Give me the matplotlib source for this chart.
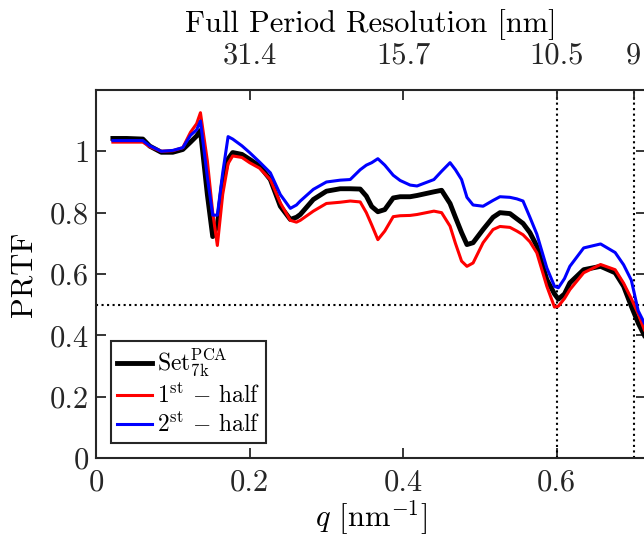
import matplotlib
matplotlib.use("Agg")
import matplotlib.pyplot as plt

plt.rcParams['font.family'] = 'serif'
plt.rcParams['font.serif'] = ['cmr10']
plt.rcParams['mathtext.fontset'] = 'cm'
plt.rcParams['axes.unicode_minus'] = False
plt.rcParams['axes.formatter.use_mathtext'] = True

# ---- data ----
q = [0.022, 0.04, 0.061, 0.07, 0.085, 0.1, 0.113, 0.123, 0.131, 0.136,
     0.145, 0.152, 0.158, 0.165, 0.172, 0.178, 0.19, 0.2, 0.213, 0.227,
     0.24, 0.253, 0.261, 0.266, 0.283, 0.3, 0.318, 0.331, 0.344, 0.352,
     0.359, 0.367, 0.376, 0.387, 0.396, 0.409, 0.418, 0.44, 0.45, 0.461,
     0.468, 0.476, 0.483, 0.491, 0.504, 0.517, 0.526, 0.539, 0.548, 0.556,
     0.565, 0.574, 0.587, 0.597, 0.602, 0.61, 0.617, 0.635, 0.657, 0.676,
     0.687, 0.697, 0.706, 0.714]

prtf_set = [1.042, 1.042, 1.040, 1.017, 0.997, 0.997, 1.006, 1.030, 1.050, 1.068,
            0.859, 0.722, 0.760, 0.900, 0.975, 0.996, 0.990, 0.974, 0.952, 0.908,
            0.821, 0.778, 0.785, 0.794, 0.843, 0.870, 0.878, 0.878, 0.877, 0.854,
            0.820, 0.803, 0.810, 0.848, 0.852, 0.852, 0.856, 0.868, 0.873, 0.830,
            0.785, 0.735, 0.696, 0.702, 0.745, 0.785, 0.800, 0.797, 0.780, 0.765,
            0.735, 0.691, 0.582, 0.535, 0.518, 0.535, 0.571, 0.614, 0.625, 0.604,
            0.560, 0.495, 0.440, 0.400]

prtf_half1 = [1.030, 1.030, 1.030, 1.015, 1.000, 1.002, 1.012, 1.062, 1.090, 1.126,
              0.969, 0.800, 0.693, 0.860, 0.960, 0.985, 0.980, 0.963, 0.945, 0.908,
              0.832, 0.775, 0.769, 0.775, 0.805, 0.830, 0.834, 0.838, 0.835, 0.800,
              0.760, 0.712, 0.740, 0.787, 0.790, 0.791, 0.794, 0.805, 0.800, 0.756,
              0.700, 0.642, 0.625, 0.636, 0.702, 0.745, 0.755, 0.752, 0.740, 0.728,
              0.705, 0.669, 0.560, 0.492, 0.495, 0.520, 0.549, 0.604, 0.631, 0.614,
              0.570, 0.520, 0.470, 0.418]

prtf_half2 = [1.035, 1.035, 1.035, 1.018, 1.000, 1.003, 1.012, 1.052, 1.070, 1.099,
              0.915, 0.792, 0.792, 0.930, 1.048, 1.040, 1.018, 0.996, 0.965, 0.930,
              0.859, 0.814, 0.825, 0.838, 0.876, 0.900, 0.906, 0.908, 0.940, 0.955,
              0.963, 0.976, 0.955, 0.922, 0.905, 0.890, 0.887, 0.908, 0.935, 0.963,
              0.940, 0.908, 0.850, 0.825, 0.821, 0.840, 0.852, 0.850, 0.845, 0.838,
              0.785, 0.730, 0.620, 0.560, 0.555, 0.585, 0.625, 0.685, 0.698, 0.670,
              0.630, 0.580, 0.480, 0.440]

labels = [r'Set$_{\mathrm{7k}}^{\mathrm{PCA}}$',
          r'1$^{\mathrm{st}}$ $-$ half',
          r'2$^{\mathrm{st}}$ $-$ half']

bottom_ticks = [0, 0.2, 0.4, 0.6]
bottom_ticklabels = ['0', '0.2', '0.4', '0.6']
yticks = [0, 0.2, 0.4, 0.6, 0.8, 1.0]
yticklabels = ['0', '0.2', '0.4', '0.6', '0.8', '1']
top_ticks = [0.2, 0.4, 0.6, 0.7]
top_ticklabels = ['31.4', '15.7', '10.5', '9']
ref_lines_x = [0.6, 0.7]
ref_line_y = 0.5

# ---- figure ----
W, H = 644, 537
fig = plt.figure(figsize=(W / 100, H / 100), dpi=100)
xmax = 0.716
ax_w_px = xmax * 768
ax = fig.add_axes([96 / W, 79 / H, ax_w_px / W, 368 / H])

spine_col = '#262626'
fs = 22
fs_leg = 17

ax.plot(q, prtf_set, color='black', lw=3.5, label=labels[0], zorder=3)
ax.plot(q, prtf_half1, color='#ff0000', lw=2.2, label=labels[1], zorder=4)
ax.plot(q, prtf_half2, color='#0000ff', lw=2.2, label=labels[2], zorder=5)

for xv in ref_lines_x:
    ax.axvline(xv, color='black', ls=':', lw=1.5, zorder=2)
ax.axhline(ref_line_y, color='black', ls=':', lw=1.5, zorder=2)

ax.set_xlim(0, xmax)
ax.set_ylim(0, 1.2)
ax.set_xticks(bottom_ticks)
ax.set_xticklabels(bottom_ticklabels)
ax.set_yticks(yticks)
ax.set_yticklabels(yticklabels)
ax.tick_params(axis='both', direction='in', length=7, width=1.3, colors=spine_col,
               labelsize=fs, labelcolor='#262626', right=True, pad=5)
ax.tick_params(axis='x', pad=8)
for s in ax.spines.values():
    s.set_linewidth(1.5)
    s.set_color(spine_col)

ax.set_xlabel(r'$q$ [nm$^{-1}$]', fontsize=fs, labelpad=1)
ax.set_ylabel('PRTF', fontsize=fs, labelpad=9)

ax2 = ax.twiny()
ax2.set_xlim(0, xmax)
ax2.set_xticks(top_ticks)
ax2.set_xticklabels(top_ticklabels)
ax2.tick_params(axis='x', direction='in', length=7, width=1.3, colors=spine_col,
                labelsize=fs, labelcolor='#262626', pad=15)
for s in ax2.spines.values():
    s.set_visible(False)
ax2.set_xlabel('Full Period Resolution [nm]', fontsize=fs, labelpad=7)

leg = ax.legend(loc='lower left', bbox_to_anchor=(0.027, 0.04), borderaxespad=0,
                fontsize=fs_leg, frameon=True, fancybox=False, framealpha=1,
                edgecolor='#262626', handlelength=1.5, handletextpad=0.2,
                labelspacing=0.2, borderpad=0.25)
leg.get_frame().set_linewidth(1.5)

fig.savefig('out.png', dpi=100)
